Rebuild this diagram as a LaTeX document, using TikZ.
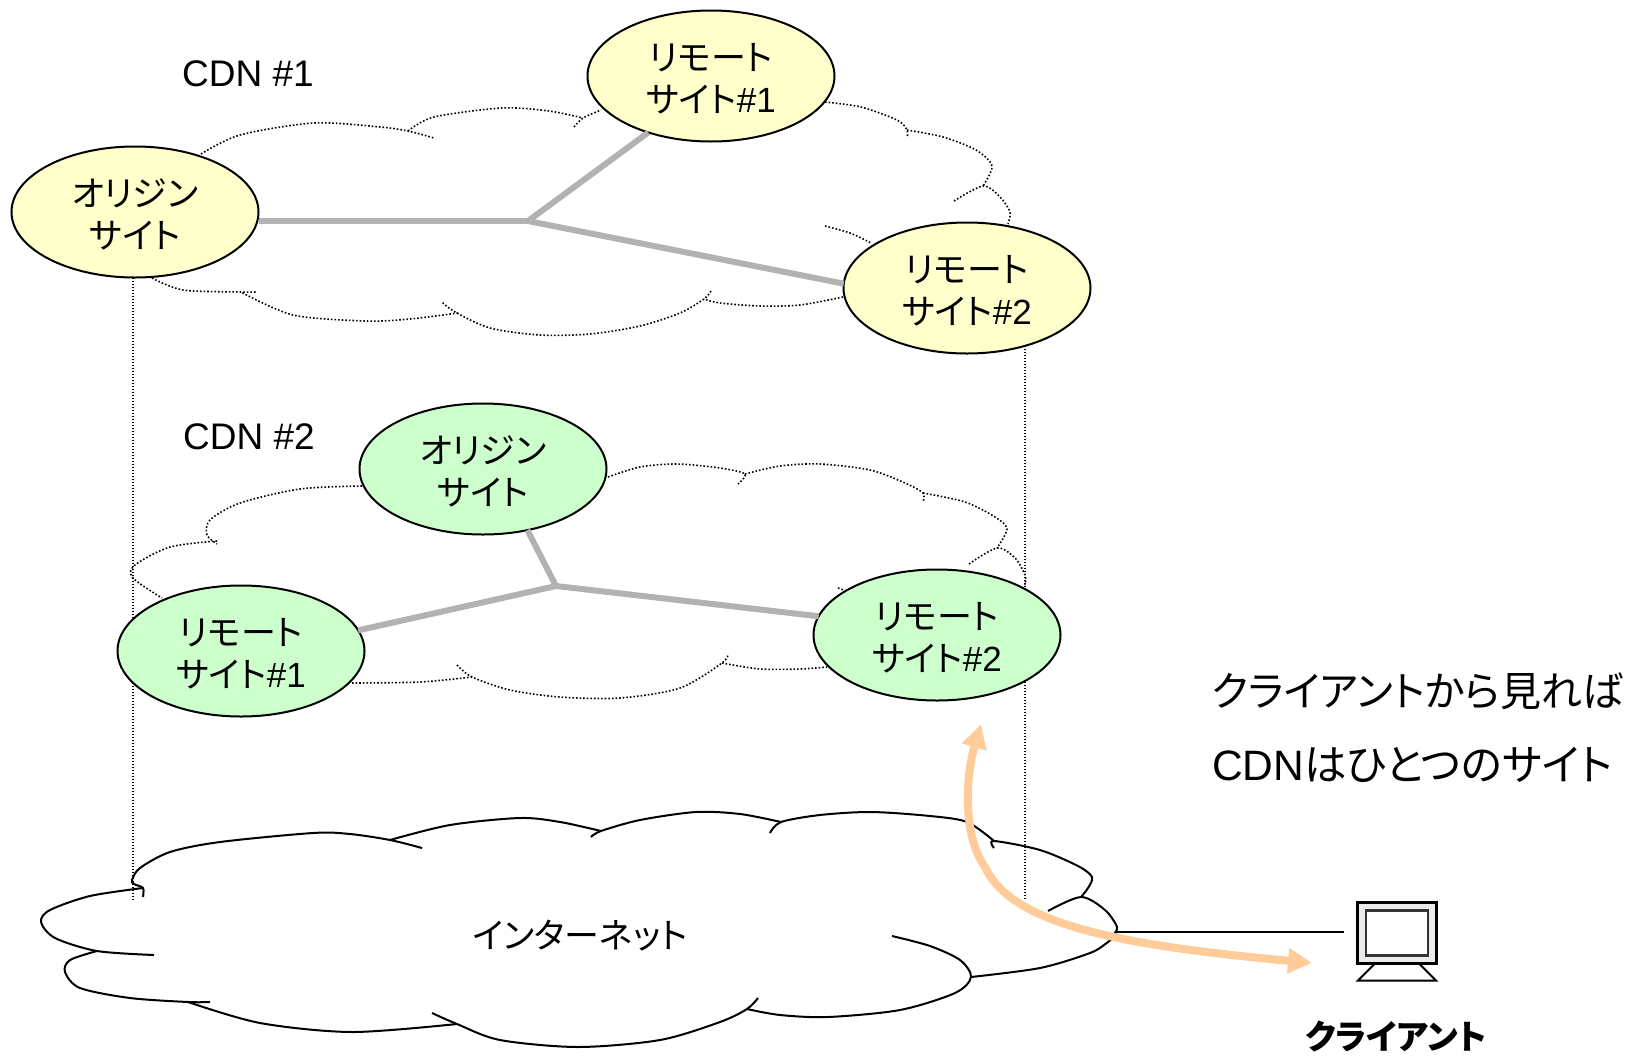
\documentclass[tikz,border=0pt]{standalone}
\usepackage{fontspec}
\setmainfont{Liberation Sans}
\newfontfamily\jpfont[RawFeature=+palt]{Noto Sans CJK JP}
\usetikzlibrary{calc}
\usetikzlibrary{shapes.geometric}
\usetikzlibrary{arrows.meta}
\definecolor{site_yellow}{HTML}{FFFFCC}
\definecolor{site_green}{HTML}{CCFFCC}
\definecolor{link_gray}{HTML}{B2B2B2}
\definecolor{route_orange}{HTML}{FFCC99}
\definecolor{pc_gray}{HTML}{EAEAEA}
\newcommand{\sitetext}[2]{\rule{0pt}{33pt}#1\\#2}

\begin{document}
\begin{tikzpicture}[x=1pt,y=-1pt,inner sep=0pt,outer sep=0pt,
    every node/.style={font=\fontsize{35}{42}\selectfont,align=center},
    site/.style={draw=black,line width=2pt,ellipse,minimum width=247pt,minimum height=131pt},
    cdn_label/.style={font=\fontsize{37}{44}\selectfont},
    note_label/.style={anchor=west,font=\fontsize{41}{48}\selectfont},
    cdn_cloud/.style={black,line width=1.6pt,dash pattern=on 1.6pt off 2pt},
    net_cloud/.style={black,line width=2pt},
    guide_line/.style={black,line width=1.4pt,dash pattern=on 1.4pt off 1.6pt},
    link/.style={link_gray,line width=6pt},
    route/.style={route_orange,line width=8pt,{Triangle[length=24pt,width=24pt]}-{Triangle[length=24pt,width=24pt]}},
    ]
  \useasboundingbox (0,0) rectangle (1628,1055);
  %
  % cloud of CDN #1
  \draw[cdn_cloud] plot[smooth] coordinates {(201,154) (240,135) (314,123) (380,127) (408,131) (434,138)};
  \draw[cdn_cloud] plot[smooth] coordinates {(408,131) (434,117) (502,108) (549,111) (583,118)};
  \draw[cdn_cloud] plot[smooth] coordinates {(574,127) (583,118) (601,110)};
  \draw[cdn_cloud] plot[smooth] coordinates {(825,102) (861,107) (897,120) (907,130) (907,138)};
  \draw[cdn_cloud] plot[smooth] coordinates {(907,130) (943,137) (976,150) (992,166) (983,186)};
  \draw[cdn_cloud] plot[smooth] coordinates {(954,201) (983,186) (1000,197) (1010,212) (1008,224)};
  \draw[cdn_cloud] plot[smooth] coordinates {(825,226) (850,233) (871,243)};
  \draw[cdn_cloud] plot[smooth] coordinates {(843,297) (800,305) (760,306) (720,303) (704,299)};
  \draw[cdn_cloud] plot[smooth] coordinates {(711,291) (704,299) (680,313) (640,326) (590,334) (540,335) (490,328) (455,312) (442,302)};
  \draw[cdn_cloud] plot[smooth] coordinates {(458,313) (410,319) (366,321) (293,315) (241,292)};
  \draw[cdn_cloud] plot[smooth] coordinates {(152,278) (183,290) (241,292) (256,292)};
  %
  % cloud of CDN #2
  \draw[cdn_cloud] plot[smooth] coordinates {(362,486) (300,489) (240,503) (210,520) (207,535) (217,544)};
  \draw[cdn_cloud] plot[smooth] coordinates {(217,541) (170,547) (135,565) (133,578) (162,598)};
  \draw[cdn_cloud] plot[smooth] coordinates {(352,683) (420,682) (472,677)};
  \draw[cdn_cloud] plot[smooth] coordinates {(457,665) (472,677) (510,690) (560,697) (620,698) (680,688) (722,663) (728,654)};
  \draw[cdn_cloud] plot[smooth] coordinates {(722,663) (760,669) (800,669) (827,667)};
  \draw[cdn_cloud] plot[smooth] coordinates {(608,477) (640,467) (677,464) (720,468) (745,474) (738,484)};
  \draw[cdn_cloud] plot[smooth] coordinates {(745,474) (780,466) (820,464) (870,470) (905,483) (923,493) (923,502)};
  \draw[cdn_cloud] plot[smooth] coordinates {(923,493) (965,502) (995,517) (1007,529) (997,548)};
  \draw[cdn_cloud] plot[smooth] coordinates {(969,564) (997,548) (1015,558) (1025,575) (1025,585)};
  \draw[cdn_cloud] plot[smooth] coordinates {(838,588) (885,605)};
  %
  % cloud of the internet
  \draw[net_cloud] plot[smooth] coordinates {(601,831) (560,822) (520,818) (450,825) (390,840)};
  \draw[net_cloud] plot[smooth] coordinates {(422,848) (390,840) (350,834) (313,833) (220,842) (170,852) (140,868) (132,880) (134,884) (143,888) (143,897)};
  \draw[net_cloud] plot[smooth] coordinates {(143,888) (90,896) (50,910) (41,922) (55,938) (97,951) (154,955)};
  \draw[net_cloud] plot[smooth] coordinates {(97,951) (70,960) (65,972) (80,988) (130,998) (188,1002) (210,1002)};
  \draw[net_cloud] plot[smooth] coordinates {(188,1002) (260,1023) (352,1032) (457,1024)};
  \draw[net_cloud] plot[smooth] coordinates {(432,1013) (457,1024) (500,1040) (578,1047) (660,1040) (720,1022) (747,1009) (758,998)};
  \draw[net_cloud] plot[smooth] coordinates {(747,1009) (780,1015) (828,1017) (900,1010) (955,993) (971,977) (960,960) (930,946) (892,936)};
  \draw[net_cloud] plot[smooth] coordinates {(971,977) (1040,968) (1090,953) (1108,942) (1117,934)};
  \draw[net_cloud] plot[smooth] coordinates {(1048,911) (1081,897) (1105,910) (1117,927) (1113,935)};
  \draw[net_cloud] plot[smooth] coordinates {(994,848) (994,841) (1040,850) (1078,866) (1092,877) (1088,888) (1081,897)};
  \draw[net_cloud] plot[smooth] coordinates {(994,841) (967,822) (930,816) (871,812) (820,815) (781,822) (770,833)};
  \draw[net_cloud] plot[smooth] coordinates {(781,822) (740,814) (696,812) (640,820) (601,831) (591,837)};
  %
  % CDN #1
  \node[cdn_label] (cdn1_label) at (248,74) {CDN \#1};
  \node[site,fill=site_yellow] (cdn1_origin) at (135,212) {\sitetext{\jpfont オリジン}{\jpfont サイト}};
  \node[site,fill=site_yellow] (cdn1_remote1) at (711,76) {\sitetext{\jpfont リモート}{{\jpfont サイト}\#1}};
  \node[site,fill=site_yellow] (cdn1_remote2) at (967,288) {\sitetext{\jpfont リモート}{{\jpfont サイト}\#2}};
  \coordinate (cdn1_hub) at (528,221);
  \draw[link] (cdn1_origin.east |- cdn1_hub) -- (cdn1_hub);
  \draw[link] (cdn1_remote1.222) -- (cdn1_hub);
  \draw[link] (cdn1_remote2.178) -- (cdn1_hub);
  %
  \coordinate (guide_left) at (133,900);
  \coordinate (guide_right) at (1025,900);
  \draw[guide_line] (cdn1_origin.south -| guide_left) -- (guide_left);
  \draw[guide_line] (cdn1_remote2.315 -| guide_right) -- (guide_right);
  %
  % CDN #2
  \node[cdn_label] (cdn2_label) at (249,437) {CDN \#2};
  \node[site,fill=site_green] (cdn2_origin) at (483,469) {\sitetext{\jpfont オリジン}{\jpfont サイト}};
  \node[site,fill=site_green] (cdn2_remote1) at (241,651) {\sitetext{\jpfont リモート}{{\jpfont サイト}\#1}};
  \node[site,fill=site_green] (cdn2_remote2) at (937,635) {\sitetext{\jpfont リモート}{{\jpfont サイト}\#2}};
  \coordinate (cdn2_hub) at (556,586);
  \draw[link] (cdn2_origin.306) -- (cdn2_hub);
  \draw[link] (cdn2_remote1.10) -- (cdn2_hub);
  \draw[link] (cdn2_remote2.171) -- (cdn2_hub);
  %
  % client
  \node (net_label) at (580,936) {\jpfont インターネット};
  \node[draw=black,line width=2.5pt,fill=pc_gray,minimum width=79pt,minimum height=61pt] (pc_frame) at (1397,933) {};
  \node[draw=black!80,line width=2.5pt,fill=white,minimum width=62pt,minimum height=45pt] (pc_screen) at (1397,933) {};
  \draw[line width=2pt,black] ($(pc_frame.south)+(-22,0)$) -- ($(pc_frame.south)+(-39,17)$) -- ($(pc_frame.south)+(39,17)$) -- ($(pc_frame.south)+(22,0)$);
  \node[font=\fontsize{34}{40}\selectfont] (pc_label) at (1396,1037) {\jpfont\bfseries クライアント};
  \coordinate (net_port) at (1116,932);
  \coordinate (pc_port) at (1344,932);
  \draw[line width=2pt,black] (net_port) -- (pc_port);
  %
  \coordinate (route_top) at (981,724);
  \coordinate (route_end) at (1312,963);
  \draw[route] (route_top) .. controls (966,775) and (962,835) .. (985,867) .. controls (1012,925) and (1120,945) .. (route_end);
  %
  \node[note_label] (note_top) at (1212,691) {\jpfont クライアントから見れば};
  \node[note_label,font=\fontsize{42.5}{50}\selectfont] (note_bottom) at (1212,765) {CDN{\jpfont はひとつのサイト}};

\end{tikzpicture}
\end{document}
